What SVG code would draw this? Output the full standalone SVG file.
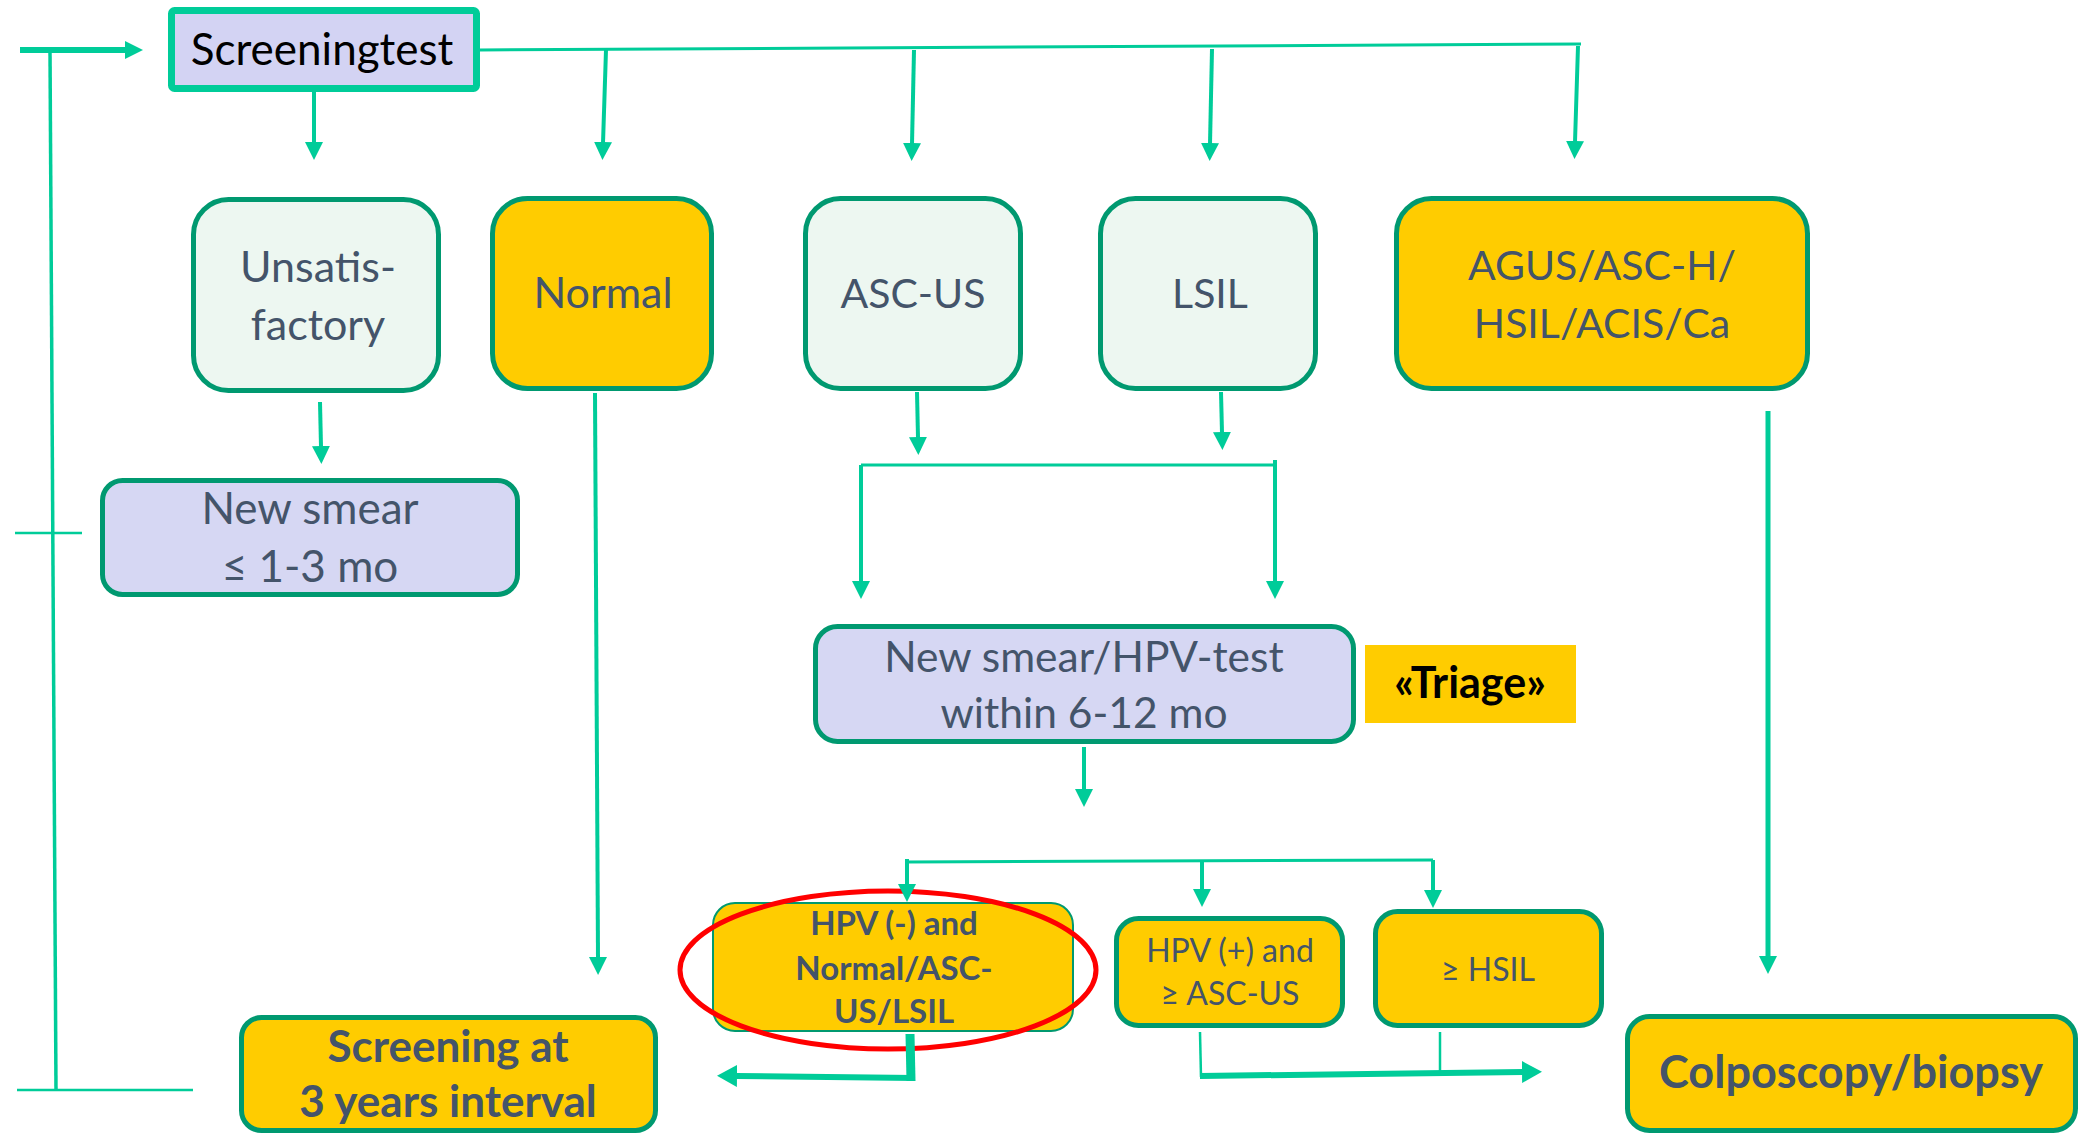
<svg xmlns="http://www.w3.org/2000/svg" width="2080" height="1133" viewBox="0 0 2080 1133">
<defs>
<style>
.node{stroke:#009970;stroke-width:5}
.mint{fill:#EDF7F1}
.lav{fill:#D6D7F3}
.yel{fill:#FFCC00}
.t{font-family:Lato,"Liberation Sans",sans-serif;fill:#44546A;text-anchor:middle}
.b{font-weight:bold}
.c{fill:none;stroke:#00CC99;stroke-width:4}
.thin{stroke-width:2.5}
.thick{stroke-width:6}
</style>
<marker id="ah" viewBox="0 0 18 18" refX="1" refY="9" markerWidth="18" markerHeight="18" markerUnits="userSpaceOnUse" orient="auto">
<path d="M0,0 L18,9 L0,18 z" fill="#00CC99"/>
</marker>
<marker id="ahL" viewBox="0 0 20 22" refX="1" refY="11" markerWidth="20" markerHeight="22" markerUnits="userSpaceOnUse" orient="auto">
<path d="M0,0 L20,11 L0,22 z" fill="#00CC99"/>
</marker>
</defs>
<rect width="2080" height="1133" fill="#FFFFFF"/>

<g id="nodes">
<g id="screeningtest">
<rect x="171.5" y="10.5" width="305" height="78" rx="3" fill="#D3D3F3" stroke="#00CC99" stroke-width="7"/>
<text class="t" x="322" y="65" font-size="44" style="fill:#000000">Screeningtest</text>
</g>
<g id="unsatisfactory">
<rect class="node mint" x="193.5" y="199.5" width="245" height="191" rx="35"/>
<text class="t" x="318" y="282" font-size="43">Unsatis-</text>
<text class="t" x="318" y="340" font-size="43">factory</text>
</g>
<g id="normal">
<rect class="node yel" x="492.5" y="198.5" width="219" height="190" rx="35"/>
<text class="t" x="603" y="308" font-size="43">Normal</text>
</g>
<g id="ascus">
<rect class="node mint" x="805.5" y="198.5" width="215" height="190" rx="35"/>
<text class="t" x="913" y="308" font-size="41">ASC-US</text>
</g>
<g id="lsil">
<rect class="node mint" x="1100.5" y="198.5" width="215" height="190" rx="35"/>
<text class="t" x="1210" y="308" font-size="41">LSIL</text>
</g>
<g id="agus">
<rect class="node yel" x="1396.5" y="198.5" width="411" height="190" rx="35"/>
<text class="t" x="1602" y="280" font-size="41">AGUS/ASC-H/</text>
<text class="t" x="1602" y="338" font-size="41">HSIL/ACIS/Ca</text>
</g>
<g id="newsmear">
<rect class="node lav" x="102.5" y="480.5" width="415" height="114" rx="20"/>
<text class="t" x="310" y="524" font-size="44">New smear</text>
<text class="t" x="310" y="582" font-size="44">≤ 1-3 mo</text>
</g>
<g id="triagetest">
<rect class="node lav" x="815.5" y="626.5" width="538" height="115" rx="22"/>
<text class="t" x="1084" y="672" font-size="42.5">New smear/HPV-test</text>
<text class="t" x="1084" y="728" font-size="42.5">within 6-12 mo</text>
</g>
<g id="triage">
<rect class="yel" x="1365" y="645" width="211" height="78"/>
<text class="t b" x="1470" y="698" font-size="43" style="fill:#000000">«Triage»</text>
</g>
<g id="screening3y">
<rect class="node yel" x="241.5" y="1017.5" width="414" height="113" rx="20"/>
<text class="t b" x="448" y="1062" font-size="44">Screening at</text>
<text class="t b" x="448" y="1117" font-size="44">3 years interval</text>
</g>
<g id="hpvneg">
<rect class="yel" x="713" y="903" width="360" height="128" rx="22" stroke="#009970" stroke-width="2"/>
<text class="t b" x="894" y="935" font-size="33">HPV (-) and</text>
<text class="t b" x="894" y="980" font-size="33">Normal/ASC-</text>
<text class="t b" x="894" y="1023" font-size="33">US/LSIL</text>
</g>
<g id="hpvpos">
<rect class="node yel" x="1116.5" y="918.5" width="226" height="107" rx="22"/>
<text class="t" x="1230" y="962" font-size="32">HPV (+) and</text>
<text class="t" x="1230" y="1005" font-size="32">≥ ASC-US</text>
</g>
<g id="hsil">
<rect class="node yel" x="1375.5" y="911.5" width="226" height="114" rx="22"/>
<text class="t" x="1488" y="981" font-size="32">≥ HSIL</text>
</g>
<g id="colposcopy">
<rect class="node yel" x="1627.5" y="1016.5" width="448" height="114" rx="22"/>
<text class="t b" x="1851" y="1088" font-size="45">Colposcopy/biopsy</text>
</g>
</g>

<g id="annotation">
<ellipse cx="888" cy="970" rx="208" ry="79" fill="none" stroke="#FF0000" stroke-width="5"/>
</g>

<g id="connectors">
<line class="c thick" x1="20" y1="50" x2="126" y2="50" marker-end="url(#ah)"/>
<line class="c" x1="50" y1="50" x2="56" y2="1090" style="stroke-width:3.5"/>
<line class="c" x1="17" y1="1090" x2="193" y2="1090" style="stroke-width:2.5"/>
<line class="c" x1="15" y1="533" x2="82" y2="533" style="stroke-width:2.5"/>
<line class="c" x1="314" y1="92" x2="314" y2="143" marker-end="url(#ah)"/>
<line class="c" x1="480" y1="50" x2="1581" y2="44" style="stroke-width:3"/>
<line class="c" x1="606" y1="50" x2="603" y2="143" marker-end="url(#ah)"/>
<line class="c" x1="914" y1="50" x2="912" y2="144" marker-end="url(#ah)"/>
<line class="c" x1="1212" y1="49" x2="1210" y2="144" marker-end="url(#ah)"/>
<line class="c" x1="1578" y1="46" x2="1575" y2="142" marker-end="url(#ah)"/>
<line class="c" x1="320" y1="402" x2="321" y2="447" marker-end="url(#ah)"/>
<line class="c" x1="595" y1="393" x2="598" y2="958" marker-end="url(#ah)"/>
<line class="c" x1="917" y1="392" x2="918" y2="438" marker-end="url(#ah)"/>
<line class="c" x1="1221" y1="392" x2="1222" y2="433" marker-end="url(#ah)"/>
<line class="c" x1="861" y1="465" x2="1275" y2="465" style="stroke-width:3"/>
<line class="c" x1="861" y1="465" x2="861" y2="582" marker-end="url(#ah)"/>
<line class="c" x1="1275" y1="460" x2="1275" y2="582" marker-end="url(#ah)"/>
<line class="c" x1="1084" y1="747" x2="1084" y2="790" marker-end="url(#ah)"/>
<line class="c" x1="907" y1="862" x2="1433" y2="860" style="stroke-width:3"/>
<line class="c" x1="907" y1="859" x2="907" y2="885" marker-end="url(#ah)"/>
<line class="c" x1="1202" y1="862" x2="1202" y2="890" marker-end="url(#ah)"/>
<line class="c" x1="1433" y1="860" x2="1433" y2="891" marker-end="url(#ah)"/>
<line class="c" x1="910" y1="1034" x2="911" y2="1081" style="stroke-width:9"/>
<line class="c thick" x1="915" y1="1078" x2="736" y2="1076" marker-end="url(#ahL)"/>
<line class="c thin" x1="1200" y1="1032" x2="1201" y2="1077"/>
<line class="c thick" x1="1200" y1="1076" x2="1523" y2="1072" marker-end="url(#ahL)"/>
<line class="c thin" x1="1440" y1="1032" x2="1440" y2="1071"/>
<line class="c" x1="1768" y1="411" x2="1768" y2="957" style="stroke-width:5" marker-end="url(#ah)"/>
</g>
</svg>
